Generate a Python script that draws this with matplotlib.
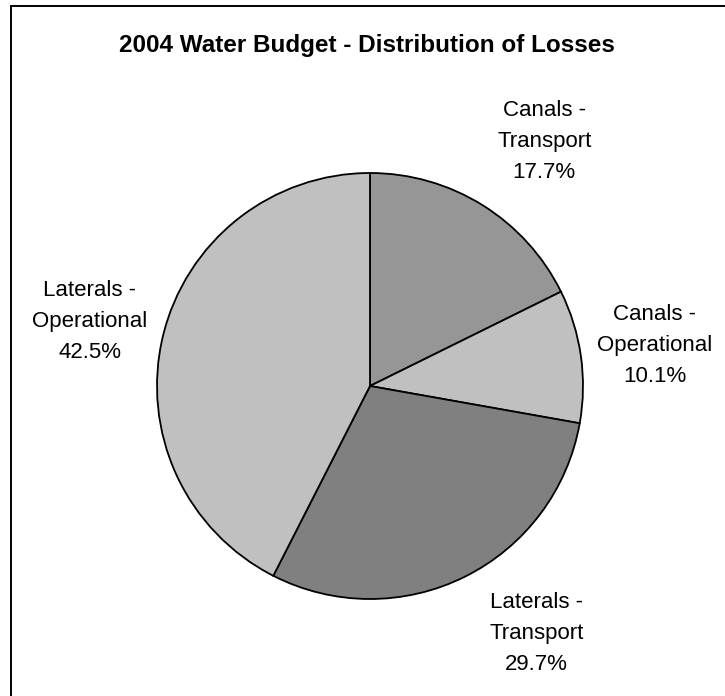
import matplotlib
matplotlib.use("Agg")
import matplotlib.pyplot as plt
import numpy as np
from matplotlib.patches import Rectangle

plt.rcParams['font.family'] = ['Liberation Sans', 'DejaVu Sans']

categories = ["Canals -\nTransport", "Canals -\nOperational",
              "Laterals -\nTransport", "Laterals -\nOperational"]
losses = [17.7, 10.1, 29.7, 42.5]
colors = ["#969696", "#c0c0c0", "#808080", "#c0c0c0"]

# label placement: distance from centre (in radii) and angle tweak (deg)
label_dist = [1.41, 1.35, 1.40, 1.35]
label_shift = [-3.6, 0.0, 7.5, 0.6]

W, H = 725, 696
cx, cy, R = 370, 386, 213

fig = plt.figure(figsize=(W / 100, H / 100), dpi=100)
ax = fig.add_axes([0, 0, 1, 1])

wedges, _ = ax.pie(losses, colors=colors, startangle=90, counterclock=False,
                   wedgeprops=dict(edgecolor="black", linewidth=1.3))

for w, cat, val, d, s in zip(wedges, categories, losses, label_dist, label_shift):
    ang = np.deg2rad((w.theta1 + w.theta2) / 2 + s)
    ax.text(d * np.cos(ang), d * np.sin(ang), f"{cat}\n{val:.1f}%",
            ha="center", va="center", fontsize=16, linespacing=1.62)

ax.set_xlim(-cx / R, (W - cx) / R)
ax.set_ylim(-(H - cy) / R, cy / R)
ax.axis("off")

fig.text(367 / W, 1 - 52 / H, "2004 Water Budget - Distribution of Losses",
         ha="center", va="baseline", fontsize=17.5, fontweight="bold")

# chart area frame
fig.add_artist(Rectangle((10.5 / W, -0.1), 1.2, 1.1 - 6 / H,
                         transform=fig.transFigure, fill=False,
                         edgecolor="black", linewidth=1.4))

fig.savefig("out.png", dpi=100, facecolor="white")
